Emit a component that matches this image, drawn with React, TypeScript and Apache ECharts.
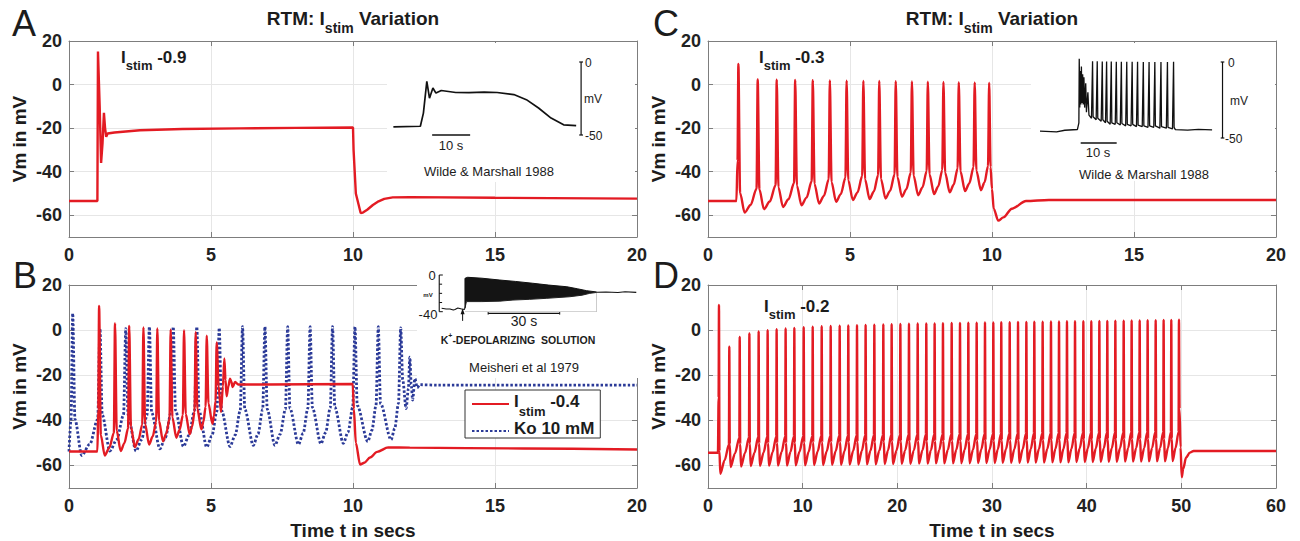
import { useEffect, useRef } from 'react';
import * as echarts from 'echarts';

type Pt = [number, number];

const FONT = '"Liberation Sans", Arial, Helvetica, sans-serif';
const RED = '#e31b23';
const BLUE = '#2b3a98';
const INK = '#1c1c1c';
const AXIS_GREY = '#7d7d7d';
const GRID_GREY = '#e6e6e6';

// ---------- tick values ----------
const xTicksShort = [0, 5, 10, 15, 20];
const xTicksLong = [0, 10, 20, 30, 40, 50, 60];
const yTicks = [-60, -40, -20, 0, 20];

// ---------- Panel A : Istim -0.9 ----------
const aTime = [0, 1.0, 1.02, 1.08, 1.13, 1.18, 1.23, 1.27, 1.31, 1.36, 1.6, 2.5, 4, 6, 8, 10, 10.02, 10.1, 10.27, 10.35, 10.5, 10.7, 10.9, 11.1, 11.4, 12, 15, 20];
const aVm = [-53.5, -53.5, 15.2, -10, -36, -27, -13, -20, -24, -22.5, -22, -21, -20.4, -20.1, -19.9, -19.7, -30, -50, -59, -58.8, -57.5, -55.3, -53.6, -52.5, -51.8, -51.7, -52, -52.4];

// ---------- Panel C : Istim -0.3 ----------
const cSpikeTimes = [1.07, 1.75, 2.42, 3.07, 3.69, 4.29, 4.88, 5.47, 6.03, 6.61, 7.18, 7.74, 8.29, 8.83, 9.39, 9.9];
const cSpikePeaks = [9.5, 2.3, 2.2, 2.1, 2.0, 1.9, 1.8, 1.7, 1.6, 1.5, 1.4, 1.3, 1.2, 1.1, 1.0, 0.8];
const cTroughs = [-58.8, -57.2, -56.2, -55.4, -54.6, -53.8, -53.0, -52.6, -52.3, -51.5, -50.8, -50.3, -49.5, -48.9, -48.5];
const cStart: Pt[] = [[0, -53.5], [1.0, -53.5], [1.04, -35]];
const cEnd: Pt[] = [[9.95, -38], [10.0, -48], [10.06, -57], [10.22, -62.5], [10.4, -61], [10.7, -57], [11.2, -53.5], [12, -53], [20, -53]];

// ---------- Panel B : Istim -0.4 (red) and Ko 10 mM (blue) ----------
const bRedTimes = [1.06, 1.62, 2.12, 2.62, 3.11, 3.58, 4.05, 4.46, 4.85, 5.2];
const bRedPeaks = [10.7, 3.0, 1.9, 1.2, 0.7, 0.3, 0.0, -0.9, -2.5, -5.5];
const bRedTroughs = [-55.6, -53.6, -51.9, -50.7, -49.3, -47.7, -46.2, -44.0, -41.5];
const bRedStart: Pt[] = [[0, -53.8], [1.0, -53.8], [1.03, -35]];
const bRedEnd: Pt[] = [[5.27, -25], [5.35, -36.3], [5.42, -25], [5.47, -12.6], [5.51, -22], [5.55, -29.3], [5.61, -25], [5.67, -21.5], [5.72, -23], [5.76, -25.2], [5.85, -23], [5.96, -24.1], [7, -24.1], [9.99, -23.9], [10.03, -35], [10.1, -50], [10.25, -59.6], [10.4, -58.8], [10.6, -56.5], [10.85, -54], [11.24, -52], [12, -52.1], [16, -52.5], [20, -52.9]];

const bBlueTimes = [0.13, 1.09, 2.0, 2.83, 3.67, 4.5, 5.29, 6.11, 6.9, 7.7, 8.49, 9.28, 10.07, 10.89, 11.68];
const bBluePeaks = [7.4, 0.7, 0.7, 1.5, 1.5, 1.5, 1.0, 1.5, 1.5, 1.5, 1.5, 1.5, 1.5, 1.5, 1.0];
const bBlueTroughTimes = [0.45, 1.44, 2.36, 3.2, 4.03, 4.85, 5.67, 6.49, 7.25, 8.08, 8.87, 9.66, 10.52, 11.34];
const bBlueTroughs = [-55.6, -53.6, -53.6, -52.6, -51.6, -51.9, -51.6, -51.1, -51.1, -50.7, -50.4, -50.2, -49.4, -48.6];
const bBlueStart: Pt[] = [[0, -53.8], [0.07, -40]];
const bBlueEnd: Pt[] = [[11.75, -22], [11.87, -34.8], [11.95, -26], [12.0, -12], [12.05, -24], [12.1, -31], [12.18, -21.5], [12.26, -25.5], [12.35, -24.2], [13, -24.4], [20, -24.4]];

// ---------- Panel D : Istim -0.2 ----------
const dSpikeTimes = [1.16, 2.25, 3.35, 4.37, 5.35, 6.3, 7.25, 8.2, 9.12, 10.11, 11.06, 12.01, 12.96, 13.91, 14.82, 15.74, 16.65, 17.57, 18.52, 19.4, 20.32, 21.23, 22.15, 23.06, 23.94, 24.82, 25.74, 26.62, 27.5, 28.38, 29.26, 30.14, 30.98, 31.87, 32.75, 33.63, 34.47, 35.35, 36.23, 37.08, 37.92, 38.77, 39.65, 40.49, 41.34, 42.18, 43.03, 43.91, 44.75, 45.6, 46.44, 47.29, 48.13, 48.94, 49.75];
const dSpikePeaks = [11.1, -7.4, -3.0, -1.5, -0.6, 0.0, 0.4, 0.7, 1.0, 1.3, 1.5, 1.7, 1.8, 2.0, 2.1, 2.2, 2.3, 2.4, 2.5, 2.6, 2.7, 2.8, 2.9, 3.0, 3.0, 3.1, 3.2, 3.2, 3.3, 3.3, 3.4, 3.4, 3.5, 3.5, 3.6, 3.6, 3.7, 3.7, 3.8, 3.8, 3.9, 3.9, 4.0, 4.0, 4.1, 4.1, 4.2, 4.2, 4.3, 4.3, 4.4, 4.4, 4.5, 4.5, 4.6];
const dTroughs = [-63.7, -60.7, -60.5, -60.3, -60.2, -60.1, -60.0, -60.0, -59.9, -59.9, -59.8, -59.8, -59.7, -59.7, -59.6, -59.6, -59.5, -59.5, -59.4, -59.4, -59.3, -59.3, -59.2, -59.2, -59.1, -59.1, -59.0, -59.0, -59.0, -58.9, -58.9, -58.9, -58.8, -58.8, -58.8, -58.7, -58.7, -58.7, -58.6, -58.6, -58.6, -58.5, -58.5, -58.5, -58.4, -58.4, -58.4, -58.3, -58.3, -58.3, -58.2, -58.2, -58.2, -58.1];
const dStart: Pt[] = [[0, -54.4], [1.05, -54.4], [1.12, -30]];
const dEnd: Pt[] = [[49.81, -35], [49.92, -52], [50.04, -65.2], [50.2, -61.5], [50.5, -56.5], [50.9, -54.3], [51.3, -53.6], [60, -53.6]];

// ---------- Inset recordings (A: Wilde & Marshall, C: Wilde & Marshall, B: Meisheri) ----------
const insetATime = [0.1, 7.2, 8.0, 8.9, 9.6, 10.5, 11.3, 12.7, 16.5, 20, 24, 27.4, 31.8, 35.1, 38.3, 41.6, 44.9, 48.2];
const insetAVm = [-44.5, -44, -35, -13.3, -24.8, -17.8, -21.3, -19.5, -20.9, -21, -20.7, -20.9, -22.3, -25.8, -31.5, -38.4, -43, -43.6];

const insetCTrace: Pt[] = [[0, -45.5], [4.6, -46], [6.9, -44.9], [10.4, -44.4], [10.8, -40], [10.9, 2.2], [11.05, -30], [11.2, -6], [11.35, -28], [11.5, -3], [11.65, -27], [11.85, -8], [12.0, -28], [12.2, -10], [12.4, -30], [12.7, -14], [12.9, -33], [13.3, -20], [13.6, -35], [14.3, -37], [14.6, 0.5], [14.75, -36], [15.6, -38], [15.9, 0.5], [16.05, -37], [17.0, -39], [17.3, 0.3], [17.45, -38], [18.2, -40], [18.5, 0.3], [18.65, -39], [19.5, -41], [19.8, 0.3], [19.95, -40], [20.9, -41], [21.2, 0.2], [21.35, -40], [22.3, -41.5], [22.6, 0.2], [22.75, -40.5], [23.8, -42], [24.1, 0.2], [24.25, -41], [25.3, -42], [25.6, 0.1], [25.75, -41], [26.8, -42.5], [27.1, 0.1], [27.25, -41.5], [28.4, -42.5], [28.7, 0], [28.85, -42], [30.0, -43], [30.3, 0], [30.45, -42], [31.6, -43], [31.9, 0], [32.05, -42], [33.3, -43.5], [33.6, 0], [33.75, -42.5], [35.1, -43.5], [35.4, 0], [35.55, -43], [36.8, -44], [37.1, 0.2], [37.25, -43], [37.6, -44.5], [41, -44.8], [44, -44.3], [47.8, -44.6]];

const insetBBaseline: Pt[] = [[1.1, -36.3], [3, -37], [4.6, -37], [6, -38.2], [6.7, -37.5], [7.9, -36], [9.5, -37], [10.6, -37.5], [10.9, -36]];
const insetBUpper: Pt[] = [[10.9, -3.6], [12, -2.5], [18, -3.5], [25.5, -5.5], [32, -7], [39.3, -9], [46, -11], [53.6, -12.8], [58, -15], [61.9, -17.1], [66.1, -18.5]];
const insetBLower: Pt[] = [[10.9, -36], [11.5, -29], [18, -29], [25.5, -28.5], [31, -27.3], [38, -26.5], [45.2, -25.4], [54.8, -23.7], [60, -22], [63.2, -20], [66.1, -19]];
const insetBTail: Pt[] = [[66.1, -18.8], [70, -18.6], [75, -19], [78, -18.3], [82.7, -18.9]];

type Shape = { fallDt: number; fallUp: number; midUp: number; preUp: number; preDt: number };

function spikeTrain(start: Pt[], times: number[], peaks: number[], troughs: number[], troughAt: number[] | number, shape: Shape, end: Pt[]): Pt[] {
  const pts: Pt[] = start.slice();
  times.forEach((t, i) => {
    pts.push([t, peaks[i]]);
    if (i < troughs.length) {
      const tt = Array.isArray(troughAt) ? troughAt[i] : t + troughAt;
      const v = troughs[i];
      const tn = times[i + 1];
      pts.push([t + shape.fallDt, v + shape.fallUp]);
      pts.push([tt, v]);
      pts.push([(tt + tn - shape.preDt) / 2, v + shape.midUp]);
      pts.push([tn - shape.preDt, v + shape.preUp]);
    }
  });
  return pts.concat(end);
}

const zip = (xs: number[], ys: number[]): Pt[] => xs.map((x, i) => [x, ys[i]]);

function xPair(grid: number, max: number, ticks: number[]) {
  const interval = ticks[1] - ticks[0];
  const base = {
    type: 'value', gridIndex: grid, min: 0, max, interval,
    axisLine: { show: true, onZero: false, lineStyle: { color: AXIS_GREY, width: 1 } },
    axisTick: { show: true, inside: true, length: 5, lineStyle: { color: AXIS_GREY } },
  };
  return [
    {
      ...base, position: 'bottom',
      axisLabel: { show: true, margin: 9, color: '#222', fontSize: 18, fontWeight: 'bold', fontFamily: FONT },
      splitLine: { show: true, lineStyle: { color: GRID_GREY, width: 1 } },
    },
    { ...base, position: 'top', axisLabel: { show: false }, splitLine: { show: false } },
  ];
}

function yPair(grid: number) {
  const base = {
    type: 'value', gridIndex: grid, min: -70, max: 20,
    axisLine: { show: true, onZero: false, lineStyle: { color: AXIS_GREY, width: 1 } },
    axisTick: { show: true, inside: true, length: 5, customValues: yTicks, lineStyle: { color: AXIS_GREY } },
  };
  return [
    {
      ...base, position: 'left',
      axisLabel: {
        show: true, margin: 7, color: '#222', fontSize: 18, fontWeight: 'bold', fontFamily: FONT,
        customValues: yTicks,
        formatter: (v: number) => (yTicks.indexOf(v) >= 0 ? String(v) : ''),
      },
      splitLine: { show: true, lineStyle: { color: GRID_GREY, width: 1 } },
    },
    { ...base, position: 'right', axisLabel: { show: false }, splitLine: { show: false } },
  ];
}

function insetAxes(grid: number, xmax: number, ymin: number, ymax: number) {
  return {
    x: { type: 'value', gridIndex: grid, min: 0, max: xmax, show: false },
    y: { type: 'value', gridIndex: grid, min: ymin, max: ymax, show: false },
  };
}

function mainLine(name: string, axis: number, data: Pt[], color: string, extra: any = {}) {
  return {
    name, type: 'line', xAxisIndex: axis, yAxisIndex: axis, data,
    symbol: 'none', showSymbol: false, silent: true, z: 3,
    lineStyle: { color, width: 2.4 }, itemStyle: { color },
    ...extra,
  };
}

function inkLine(axis: number, data: any[], width = 1.2, extra: any = {}) {
  return {
    type: 'line', xAxisIndex: axis, yAxisIndex: axis, data,
    symbol: 'none', showSymbol: false, silent: true, clip: false, z: 4,
    lineStyle: { color: '#111', width }, itemStyle: { color: '#111' },
    ...extra,
  };
}

function txt(x: number, y: number, text: string, size: number, opts: any = {}) {
  return {
    type: 'text', x, y, z: 20, silent: true, rotation: opts.rotation || 0,
    style: {
      text, fontSize: size, fontFamily: FONT, fontWeight: opts.weight || 'normal',
      fill: opts.color || INK, align: opts.align || 'center', verticalAlign: opts.valign || 'middle',
      rich: opts.rich,
    },
  };
}

const subRich = (big: number, small: number, lh: number, pad: number) => ({
  a: { fontSize: big, fontWeight: 'bold', fontFamily: FONT, fill: INK, lineHeight: lh, verticalAlign: 'top' },
  b: { fontSize: small, fontWeight: 'bold', fontFamily: FONT, fill: INK, lineHeight: small + 2, verticalAlign: 'top', padding: [pad, 0, 0, 0] },
});

function whiteRect(x: number, y: number, w: number, h: number) {
  return { type: 'rect', z: 1, silent: true, shape: { x, y, width: w, height: h }, style: { fill: '#ffffff' } };
}

export default function App() {
  const ref = useRef<HTMLDivElement>(null);

  useEffect(() => {
    if (!ref.current) return;
    const chart = echarts.init(ref.current, undefined, { renderer: 'svg' });

    const shapeC: Shape = { fallDt: 0.06, fallUp: 9, midUp: 3.5, preUp: 11, preDt: 0.04 };
    const shapeBRed: Shape = { fallDt: 0.06, fallUp: 9, midUp: 3.5, preUp: 10, preDt: 0.04 };
    const shapeBBlue: Shape = { fallDt: 0.08, fallUp: 16, midUp: 5, preUp: 16, preDt: 0.08 };
    const shapeD: Shape = { fallDt: 0.05, fallUp: 10, midUp: 6, preUp: 13, preDt: 0.04 };

    const dataA = zip(aTime, aVm);
    const dataC = spikeTrain(cStart, cSpikeTimes, cSpikePeaks, cTroughs, 0.22, shapeC, cEnd);
    const dataBRed = spikeTrain(bRedStart, bRedTimes, bRedPeaks, bRedTroughs, 0.2, shapeBRed, bRedEnd);
    const dataBBlue = spikeTrain(bBlueStart, bBlueTimes, bBluePeaks, bBlueTroughs, bBlueTroughTimes, shapeBBlue, bBlueEnd);
    const dataD = spikeTrain(dStart, dSpikeTimes, dSpikePeaks, dTroughs, 0.14, shapeD, dEnd);

    const [axA, axAt] = xPair(0, 20, xTicksShort);
    const [axB, axBt] = xPair(1, 20, xTicksShort);
    const [axC, axCt] = xPair(2, 20, xTicksShort);
    const [axD, axDt] = xPair(3, 60, xTicksLong);
    const [ayA, ayAr] = yPair(0);
    const [ayB, ayBr] = yPair(1);
    const [ayC, ayCr] = yPair(2);
    const [ayD, ayDr] = yPair(3);
    const iA = insetAxes(4, 50, -50, 0);
    const iB = insetAxes(5, 83, -40, 0);
    const iC = insetAxes(6, 52, -55, 0);

    const smooth = { smooth: 0.3, smoothMonotone: 'x' };

    const option: any = {
      animation: false,
      backgroundColor: '#ffffff',
      textStyle: { fontFamily: FONT },
      grid: [
        { left: 69, top: 41, width: 568, height: 196 },
        { left: 69, top: 285, width: 568, height: 203 },
        { left: 708, top: 41, width: 568, height: 196 },
        { left: 708, top: 285, width: 568, height: 203 },
        { left: 393, top: 62, width: 190, height: 73 },
        { left: 439, top: 275, width: 198, height: 36.7 },
        { left: 1040, top: 62, width: 187.2, height: 83.6 },
      ],
      // x axes: 0 A,1 A-top,2 B,3 B-top,4 C,5 C-top,6 D,7 D-top,8 insetA,9 insetB,10 insetC
      xAxis: [
        { ...axA }, { ...axAt }, { ...axB }, { ...axBt },
        { ...axC }, { ...axCt }, { ...axD }, { ...axDt },
        iA.x, iB.x, iC.x,
      ],
      yAxis: [
        { ...ayA }, { ...ayAr }, { ...ayB }, { ...ayBr },
        { ...ayC }, { ...ayCr }, { ...ayD }, { ...ayDr },
        iA.y, iB.y, iC.y,
      ],
      legend: {
        data: ['Istim -0.4', 'Ko 10 mM'],
        left: 465, top: 390, orient: 'vertical',
        itemWidth: 37, itemHeight: 14, itemGap: 2, itemTextGap: 5,
        padding: [3, 6, 1, 6],
        borderColor: '#333', borderWidth: 1, backgroundColor: '#ffffff',
        selectedMode: false,
        itemStyle: { opacity: 0, borderWidth: 0 },
        formatter: (n: string) => (n === 'Istim -0.4' ? '{a|I}{b|stim}{a| -0.4}' : '{a|Ko 10 mM}'),
        textStyle: {
          rich: {
            a: { fontSize: 17, fontWeight: 'bold', fontFamily: FONT, color: INK, lineHeight: 22, verticalAlign: 'top' },
            b: { fontSize: 13, fontWeight: 'bold', fontFamily: FONT, color: INK, lineHeight: 14, verticalAlign: 'top', padding: [12, 0, 0, 0] },
          },
        },
      },
      series: [
        mainLine('panelA', 0, dataA, RED),
        mainLine('Ko 10 mM', 2, dataBBlue, BLUE, { ...smooth, z: 3, lineStyle: { color: BLUE, width: 2.8, type: [2.5, 2] } }),
        mainLine('Istim -0.4', 2, dataBRed, RED, { ...smooth, z: 4 }),
        mainLine('panelC', 4, dataC, RED, smooth),
        mainLine('panelD', 6, dataD, RED, smooth),

        // inset A recording + scale bars
        inkLine(8, zip(insetATime, insetAVm), 1.7),
        inkLine(8, [[49.5, 0], [49.5, -50]], 1.2),
        inkLine(8, [[49.0, 0], [50.0, 0]], 1.2),
        inkLine(8, [[49.0, -50], [50.0, -50]], 1.2),
        inkLine(8, [[10.3, -50], [20.3, -50]], 1.4),

        // inset C recording + scale bars
        inkLine(10, insetCTrace, 1.3),
        inkLine(10, [[50.7, 0], [50.7, -50]], 1.2),
        inkLine(10, [[50.2, 0], [51.2, 0]], 1.2),
        inkLine(10, [[50.2, -50], [51.2, -50]], 1.2),
        inkLine(10, [[11.3, -53.3], [21.3, -53.3]], 1.4),

        // inset B recording (burst envelope) + scale bars
        inkLine(9, insetBUpper, 1, { areaStyle: { color: '#141414', opacity: 1, origin: 'start' }, z: 4 }),
        inkLine(9, insetBLower, 1, { areaStyle: { color: '#ffffff', opacity: 1, origin: 'start' }, lineStyle: { color: '#222', width: 1 }, z: 5 }),
        inkLine(9, insetBBaseline, 1.1, { z: 6 }),
        inkLine(9, [[10.9, -36], [10.9, -3.6]], 1.1, { z: 6 }),
        inkLine(9, insetBTail, 1.1, { z: 6 }),
        inkLine(9, [[0.1, 0], [0.1, -40]], 1.1),
        inkLine(9, [[0.1, 0], [1.6, 0]], 1),
        inkLine(9, [[0.1, -10], [1.3, -10]], 1),
        inkLine(9, [[0.1, -20], [1.3, -20]], 1),
        inkLine(9, [[0.1, -30], [1.3, -30]], 1),
        inkLine(9, [[0.1, -40], [1.6, -40]], 1),
        inkLine(9, [[9.9, -50], { value: [9.9, -39.5], symbol: 'triangle', symbolSize: [4, 6] }], 1, { symbol: 'none', showSymbol: true }),
        inkLine(9, [[20.6, -41.8], [50.6, -41.8]], 1.2),
        inkLine(9, [[20.6, -40.4], [20.6, -43.2]], 1),
        inkLine(9, [[50.6, -40.4], [50.6, -43.2]], 1),
      ],
      graphic: [
        whiteRect(387, 43, 248, 139),
        whiteRect(1031, 43, 244, 138),
        whiteRect(417, 262, 222, 116),

        // panel letters
        txt(24, 23, 'A', 36),
        txt(25, 275, 'B', 36),
        txt(666, 23, 'C', 36),
        txt(666, 275, 'D', 36),

        // titles
        txt(353, 9, '{a|RTM: I}{b|stim}{a| Variation}', 19, { valign: 'top', rich: subRich(19, 14, 22, 12) }),
        txt(992, 9, '{a|RTM: I}{b|stim}{a| Variation}', 19, { valign: 'top', rich: subRich(19, 14, 22, 12) }),

        // y axis names
        txt(19.5, 139, 'Vm in mV', 19, { weight: 'bold', rotation: Math.PI / 2 }),
        txt(19.5, 386.5, 'Vm in mV', 19, { weight: 'bold', rotation: Math.PI / 2 }),
        txt(658.5, 139, 'Vm in mV', 19, { weight: 'bold', rotation: Math.PI / 2 }),
        txt(658.5, 386.5, 'Vm in mV', 19, { weight: 'bold', rotation: Math.PI / 2 }),

        // x axis names
        txt(353, 530, 'Time t in secs', 19, { weight: 'bold' }),
        txt(992, 530, 'Time t in secs', 19, { weight: 'bold' }),

        // stimulus annotations
        txt(121, 49, '{a|I}{b|stim}{a| -0.9}', 17, { align: 'left', valign: 'top', rich: subRich(17, 13, 20, 10) }),
        txt(759, 49, '{a|I}{b|stim}{a| -0.3}', 17, { align: 'left', valign: 'top', rich: subRich(17, 13, 20, 10) }),
        txt(764, 298, '{a|I}{b|stim}{a| -0.2}', 17, { align: 'left', valign: 'top', rich: subRich(17, 13, 20, 10) }),

        // inset A texts
        txt(585, 63, '0', 12, { align: 'left' }),
        txt(584, 99, 'mV', 12, { align: 'left' }),
        txt(585, 136, '-50', 12, { align: 'left' }),
        txt(451, 145, '10 s', 13),
        txt(489, 171, 'Wilde & Marshall 1988', 13),

        // inset C texts
        txt(1228, 63, '0', 12, { align: 'left' }),
        txt(1230, 101, 'mV', 12, { align: 'left' }),
        txt(1225, 139, '-50', 12, { align: 'left' }),
        txt(1098, 152, '10 s', 13),
        txt(1144, 174, 'Wilde & Marshall 1988', 13),

        // inset B texts
        txt(432, 275, '0', 13),
        txt(428, 314, '-40', 13),
        txt(428, 295, 'mV', 6, { weight: 'bold' }),
        txt(524, 321, '30 s', 14),
        txt(518, 338.5, '{k|K}{p|+}{k|-DEPOLARIZING  SOLUTION}', 10, {
          rich: {
            k: { fontSize: 10.5, fontWeight: 'bold', fontFamily: FONT, fill: INK, lineHeight: 13, verticalAlign: 'bottom' },
            p: { fontSize: 7, fontWeight: 'bold', fontFamily: FONT, fill: INK, lineHeight: 9, verticalAlign: 'top' },
          },
        }),
        txt(524, 367, 'Meisheri et al 1979', 13),
      ],
    };

    chart.setOption(option);
    return () => chart.dispose();
  }, []);

  return (
    <div
      ref={ref}
      style={{ position: 'absolute', left: 0, top: 0, width: 1300, height: 541, background: '#ffffff' }}
    />
  );
}
